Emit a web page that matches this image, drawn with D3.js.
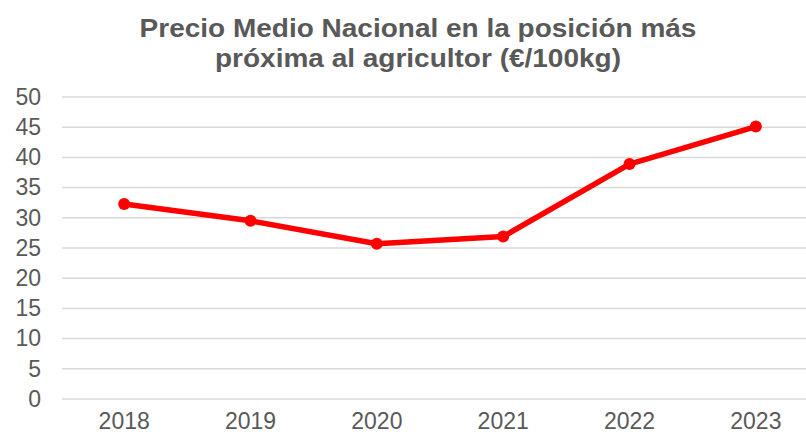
<!DOCTYPE html>
<meta charset="utf-8">
<head>
<style>
  body { margin: 0; background: #fff; }
  svg { display: block; font-family: Arial, 'Liberation Sans', sans-serif; }
</style>
</head>
<body>
<div id="chart"></div>
<script src="https://d3js.org/d3.v7.min.js"></script>
<script>

// data
var years = ["2018", "2019", "2020", "2021", "2022", "2023"];
var prices = [32.3, 29.5, 25.7, 26.9, 38.9, 45.1];
var yTicks = [0, 5, 10, 15, 20, 25, 30, 35, 40, 45, 50];
var titleLines = ["Precio Medio Nacional en la posición más", "próxima al agricultor (€/100kg)"];

var width = 806, height = 434;

var svg = d3.select("#chart")
  .append("svg")
    .attr("width", width)
    .attr("height", height);

var x = d3.scaleBand()
  .domain(years)
  .range([61, 819]);

var y = d3.scaleLinear()
  .domain([0, 50])
  .range([399, 97]);

// title (source picture is a little stretched sideways)
svg.append("text")
    .attr("transform", "translate(418,37) scale(1.12,1)")
    .attr("text-anchor", "middle")
    .style("font-size", "25px")
    .style("font-weight", "bold")
    .style("fill", "#595959")
  .selectAll("tspan")
  .data(titleLines)
  .enter()
  .append("tspan")
    .attr("x", 0)
    .attr("dy", function(d, i) { return i == 0 ? 0 : 30; })
    .text(function(d) { return d; });

// gridlines
svg.append("g")
  .selectAll("line")
  .data(yTicks)
  .enter()
  .append("line")
    .attr("x1", 62)
    .attr("x2", width)
    .attr("y1", function(d) { return y(d); })
    .attr("y2", function(d) { return y(d); })
    .attr("stroke", "#d9d9d9")
    .attr("stroke-width", 1.5);

// y axis labels
var yAxis = svg.append("g")
  .attr("transform", "translate(41,0)")
  .call(d3.axisLeft(y).tickValues(yTicks).tickSize(0).tickPadding(0));
yAxis.select(".domain").remove();
yAxis.selectAll("text")
  .style("font-size", "23px")
  .style("fill", "#595959")
  .style("font-family", "Arial, 'Liberation Sans', sans-serif");

// x axis labels
var xAxis = svg.append("g")
  .attr("transform", "translate(0,409)")
  .call(d3.axisBottom(x).tickSize(0).tickPadding(4));
xAxis.select(".domain").remove();
xAxis.selectAll("text")
  .style("font-size", "23px")
  .style("fill", "#595959")
  .style("font-family", "Arial, 'Liberation Sans', sans-serif");

// line + markers
var line = d3.line()
  .x(function(d, i) { return x(years[i]) + x.bandwidth() / 2; })
  .y(function(d) { return y(d); });

svg.append("path")
  .datum(prices)
  .attr("d", line)
  .attr("fill", "none")
  .attr("stroke", "#ff0000")
  .attr("stroke-width", 5.5)
  .attr("stroke-linejoin", "round");

svg.selectAll(".dot")
  .data(prices)
  .enter()
  .append("circle")
    .attr("class", "dot")
    .attr("cx", function(d, i) { return x(years[i]) + x.bandwidth() / 2; })
    .attr("cy", function(d) { return y(d); })
    .attr("r", 6)
    .attr("fill", "#ff0000");

</script>
</body>
